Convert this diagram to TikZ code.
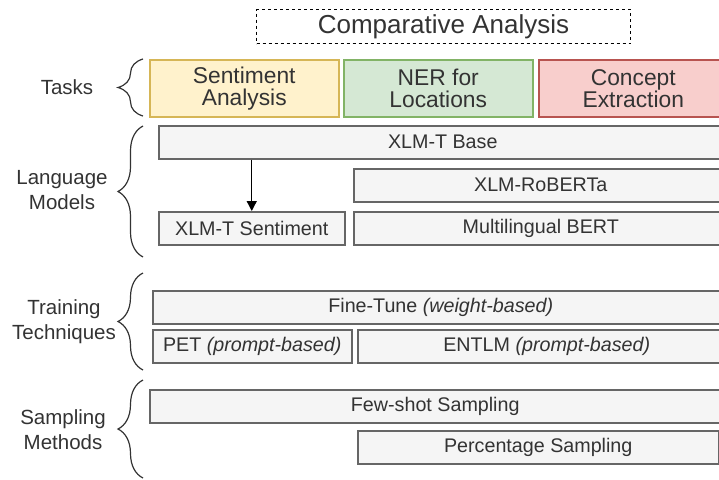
\documentclass[tikz,border=0pt]{standalone}
\usepackage{fontspec}
\setmainfont{Liberation Sans}
\usetikzlibrary{arrows.meta,decorations.pathreplacing}
\definecolor{boxfill}{HTML}{F5F5F5}
\definecolor{boxline}{HTML}{666666}
\definecolor{txt}{HTML}{333333}
\definecolor{yfill}{HTML}{FFF2CC}
\definecolor{yline}{HTML}{D6B656}
\definecolor{gfill}{HTML}{D5E8D4}
\definecolor{gline}{HTML}{82B366}
\definecolor{rfill}{HTML}{F8CECC}
\definecolor{rline}{HTML}{B85450}

\begin{document}
\begin{tikzpicture}[x=1pt,y=-1pt,
        mbox/.style={draw=boxline,fill=boxfill,line width=1.5pt,anchor=north west,inner sep=0pt,
            minimum height=33pt,text=txt,font=\fontsize{19.7}{22}\selectfont},
        task/.style={line width=1.5pt,anchor=north west,inner sep=0pt,minimum width=189pt,
            minimum height=57pt,align=center,text=txt,font=\fontsize{22.8}{22}\selectfont},
        grp/.style={text=txt,align=center,font=\fontsize{20.5}{25}\selectfont},
        grpbrace/.style={draw=txt,line width=1.2pt,decorate,decoration={brace,amplitude=25pt}}]
        \useasboundingbox (0,0) rectangle (719,479);

        \node[draw,dash pattern=on 3pt off 3pt,line width=1pt,anchor=north west,minimum width=374pt,
            minimum height=34pt,text=txt,font=\fontsize{26}{30}\selectfont] (title) at (256,9) {Comparative Analysis};

        % tasks
        \foreach \n/\x/\c/\t in {sa/149/y/{Sentiment\\Analysis},ner/343/g/{NER for\\Locations},ce/538/r/{Concept\\Extraction}}{
            \node[task,draw=\c line,fill=\c fill] (\n) at (\x,59) {\t};
        }

        % models, training, sampling
        \foreach \n/\x/\y/\w/\t in {base/158/125/568/{XLM-T Base},roberta/353/168/374/{XLM-RoBERTa},
                xsent/158/211/186/{XLM-T Sentiment},mbert/353/211/374/{Multilingual BERT},
                finetune/152/290/576/{Fine-Tune \textit{(weight-based)}},pet/152/329/199/{PET \textit{(prompt-based)}},
                entlm/357/329/378/{ENTLM \textit{(prompt-based)}},
                fewshot/149/389/571/{Few-shot Sampling},pct/357/430/361/{Percentage Sampling}}{
            \node[mbox,minimum width=\w pt] (\n) at (\x,\y) {\t};
        }
        \draw[line width=1.3pt,-{Triangle[length=10pt,width=10pt]}] (base.south -| xsent.north) -- (xsent.north);

        % groups
        \node[grp] (tasks) at (67,87) {Tasks};
        \node[grp] (lm) at (62,190) {Language\\Models};
        \node[grp] (tt) at (64,322) {Training\\Techniques};
        \node[grp] (sm) at (63,430) {Sampling\\Methods};
        \draw[grpbrace] (143,116) -- (143,59);
        \draw[grpbrace] (143,257) -- (143,126);
        \draw[grpbrace] (143,370) -- (143,273);
        \draw[grpbrace] (143,478) -- (143,380);
    \end{tikzpicture}
\end{document}
